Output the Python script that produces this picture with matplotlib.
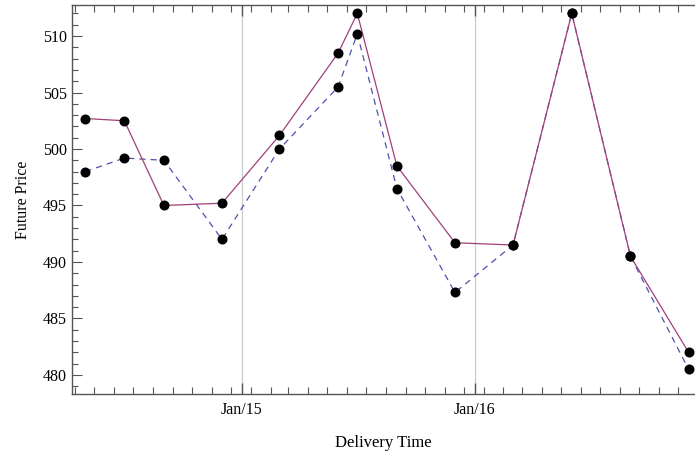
import datetime as dt
import matplotlib
matplotlib.use("Agg")
import matplotlib.pyplot as plt
import matplotlib.dates as mdates

# delivery months of the contracts
delivery = [dt.date(2014, 5, 1), dt.date(2014, 7, 1), dt.date(2014, 9, 1), dt.date(2014, 12, 1),
            dt.date(2015, 3, 1), dt.date(2015, 6, 1), dt.date(2015, 7, 1), dt.date(2015, 9, 1),
            dt.date(2015, 12, 1), dt.date(2016, 3, 1), dt.date(2016, 6, 1), dt.date(2016, 9, 1),
            dt.date(2016, 12, 1)]

# solid (purple) curve
price_a = [502.7, 502.5, 495.0, 495.2, 501.2, 508.5, 512.0, 498.5, 491.7, 491.5, 512.0, 490.5, 482.0]
# dashed (blue) curve
price_b = [498.0, 499.2, 499.0, 492.0, 500.0, 505.5, 510.2, 496.5, 487.3, 491.5, 512.0, 490.5, 480.5]

yticks = [480, 485, 490, 495, 500, 505, 510]

plt.rcParams['font.family'] = ['Liberation Serif', 'DejaVu Serif']

fig = plt.figure(figsize=(6.95, 4.53), dpi=100)
ax = fig.add_axes([0.1036, 0.130, 0.8954, 0.859])

ax.plot(delivery, price_b, color='#5050b0', lw=0.9, ls=(0, (5, 4)))
ax.plot(delivery, price_a, color='#a0407a', lw=0.9)
ax.plot(delivery, price_b, 'o', color='black', ms=6.2)
ax.plot(delivery, price_a, 'o', color='black', ms=6.2)

ax.set_xlim(dt.date(2014, 4, 10), dt.date(2016, 12, 10))
ax.set_ylim(478.3, 512.75)

# gridlines at the year boundaries
for yr in (2015, 2016):
    ax.axvline(dt.date(yr, 1, 1), color='#cccccc', lw=0.9, zorder=0)

ax.xaxis.set_major_locator(mdates.YearLocator())
ax.xaxis.set_major_formatter(mdates.DateFormatter('Jan/%y'))
ax.xaxis.set_minor_locator(mdates.MonthLocator(bymonthday=15))
ax.set_yticks(yticks)
ax.yaxis.set_minor_locator(matplotlib.ticker.MultipleLocator(1))

ax.tick_params(axis='both', which='both', direction='in', colors='#555555',
               labelcolor='black', labelsize=11.5, top=True)
ax.tick_params(axis='x', which='major', length=8, width=1)
ax.tick_params(axis='x', which='minor', length=5, width=0.8)
ax.tick_params(axis='y', which='major', length=7, width=0.8)
ax.tick_params(axis='y', which='minor', length=4, width=0.8)
ax.tick_params(axis='x', pad=6)

for side in ('left', 'bottom', 'top'):
    ax.spines[side].set_color('#555555')
    ax.spines[side].set_linewidth(1)
ax.spines['right'].set_visible(False)

ax.set_xlabel('Delivery Time', fontsize=12, labelpad=12)
ax.set_ylabel('Future Price', fontsize=11.5, labelpad=9)

fig.savefig('out.png', dpi=100)
